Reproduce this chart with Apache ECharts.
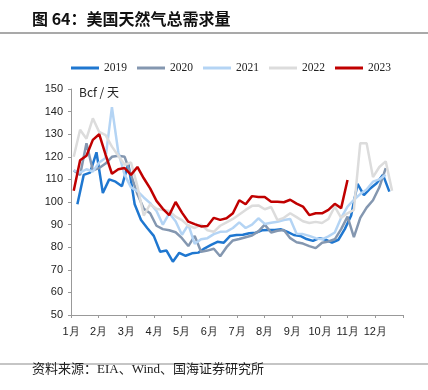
<!DOCTYPE html>
<html>
<head>
<meta charset="utf-8">
<script src="https://cdn.jsdelivr.net/npm/echarts@6/dist/echarts.min.js"></script>
<style>
  html, body { margin: 0; padding: 0; background: #fff; }
  #chart1 { width: 428px; height: 390px; }
</style>
</head>
<body>
<div id="chart1"></div>
<script>
// weekly values, Bcf/天
const years = ['2019', '2020', '2021', '2022', '2023'];
const firstDay = [7, 3, 3, 3, 3];   // day of year of the first weekly point
const colors = ['#1f77d0', '#8497b0', '#b4d4f4', '#dcdcdc', '#c00000'];

const v2019 = [99, 112, 113, 122, 104, 110, 109, 107, 117, 99,
    92, 88.4, 85, 78, 78.5, 73.6, 77.5, 76.2, 77.3, 77.6,
    79.5, 81, 82.4, 82, 85, 85.4, 85.5, 86.2, 86.4, 87.5,
    87.6, 87.6, 87.9, 86.8, 85.4, 85, 83.6, 82.8, 84, 83.3,
    82, 83.3, 88, 94, 108, 103, 106, 108.3, 112, 104.6];
const v2020 = [114, 112, 126, 114, 115, 117, 120, 120.5, 120, 112,
    103.5, 97, 95, 89.5, 88, 87.5, 86.6, 84, 80.5, 85,
    78, 78.5, 79.3, 76, 80, 83, 83.6, 84.4, 85.2, 87,
    90, 86.5, 87.3, 87.6, 84, 82.2, 81.6, 80.5, 79.6, 82,
    82.5, 83.5, 88, 93.5, 84.5, 93, 97.5, 100.8, 106.5, 115];
const v2021 = [114, 113, 114.5, 113.5, 117.5, 119.5, 142, 122, 112, 106.5,
    104.8, 102, 99.5, 96, 90, 95, 91.5, 85.5, 90, 81.5,
    83.5, 84, 85.8, 86.8, 86.9, 88.5, 91, 88.5, 90, 92.8,
    90.3, 90.8, 91.3, 92, 92.5, 86, 85.8, 85, 84, 83.5,
    84.8, 86.5, 93, 98, 101, 103.5, 105.5, 109, 110, 112];
const v2022 = [120, 132, 128, 137, 131, 129.6, 124.5, 120.5, 116.5, 117.5,
    107, 94, 99, 97, 96.5, 96, 93.5, 92, 89.5, 88.5,
    90, 87.5, 86.8, 89.5, 91, 92.5, 94.5, 96.5, 98.3, 98.5,
    96.8, 97.8, 92, 93, 95, 93.3, 91.5, 90.7, 91.2, 90.7,
    92.5, 98, 93, 95, 96.5, 126, 126, 111, 115.5, 118, 105];
const v2023 = [105, 118.5, 120.5, 127.5, 130, 121, 112.5, 114.5, 115, 112,
    115.5, 110.5, 106, 100.5, 97, 94.2, 100, 95.3, 91.3, 90.2,
    89.2, 89.4, 93, 92.1, 92.8, 95, 100.8, 99, 102.6, 102.2,
    102.2, 100.1, 100.1, 99.9, 101, 99.3, 98, 94.2, 95, 95,
    96.5, 99.2, 97.3, 109.7];
const allValues = [v2019, v2020, v2021, v2022, v2023];
const monthLabels = ['1月', '2月', '3月', '4月', '5月', '6月', '7月', '8月', '9月', '10月', '11月', '12月'];

const monthDays = 365 / 12;
const chart = echarts.init(document.getElementById('chart1'));

const series = years.map((y, k) => ({
    name: y,
    type: 'line',
    symbol: 'none',
    z: 2 + k,
    lineStyle: { width: 2.5, color: colors[k] },
    itemStyle: { color: colors[k] },
    data: allValues[k].map((v, i) => [(firstDay[k] + 7 * i) / monthDays, v])
}));

const option = {
    animation: false,
    backgroundColor: '#fff',
    graphic: [
        {
            type: 'text', left: 32, top: 11,
            style: { text: '图 64：美国天然气总需求量', font: 'bold 16px "Noto Sans CJK SC"', fill: '#111' }
        },
        {
            type: 'line', shape: { x1: 0, y1: 33, x2: 428, y2: 33 },
            style: { stroke: '#8c8c8c', lineWidth: 1.5 }
        },
        {
            type: 'text', left: 79, top: 86,
            style: { text: 'Bcf / 天', font: '12px "Noto Sans CJK SC"', fill: '#222' }
        },
        {
            type: 'line', shape: { x1: 0, y1: 364, x2: 428, y2: 364 },
            style: { stroke: '#8c8c8c', lineWidth: 1.2 }
        },
        {
            type: 'text', left: 32, top: 363,
            style: { text: '资料来源：EIA、Wind、国海证券研究所', font: '13px "Liberation Serif", "Noto Sans CJK SC"', fill: '#222' }
        }
    ],
    legend: {
        top: 57,
        left: 66,
        icon: 'rect',
        itemWidth: 28,
        itemHeight: 3,
        itemGap: 10,
        textStyle: { fontFamily: 'Liberation Serif', fontSize: 11.5, color: '#222' },
        data: years
    },
    grid: { left: 71, right: 25, top: 89, bottom: 75 },
    xAxis: {
        type: 'value',
        min: 0,
        max: 12,
        interval: 1,
        axisLine: { lineStyle: { color: '#999' } },
        axisTick: { show: true, length: 3, lineStyle: { color: '#999' } },
        splitLine: { show: false },
        axisLabel: {
            color: '#222', fontSize: 11, fontFamily: 'Liberation Sans', margin: 11,
            formatter: v => (v < 12 ? monthLabels[Math.round(v)] : '')
        }
    },
    yAxis: {
        type: 'value',
        min: 50,
        max: 150,
        interval: 10,
        axisLine: { show: true, lineStyle: { color: '#999' } },
        axisTick: { show: true, length: 3, lineStyle: { color: '#999' } },
        splitLine: { show: false },
        axisLabel: { color: '#222', fontSize: 11, fontFamily: 'Liberation Sans', margin: 8 }
    },
    series: series
};

chart.setOption(option);
window.addEventListener('resize', function () { chart.resize(); });
</script>
</body>
</html>
